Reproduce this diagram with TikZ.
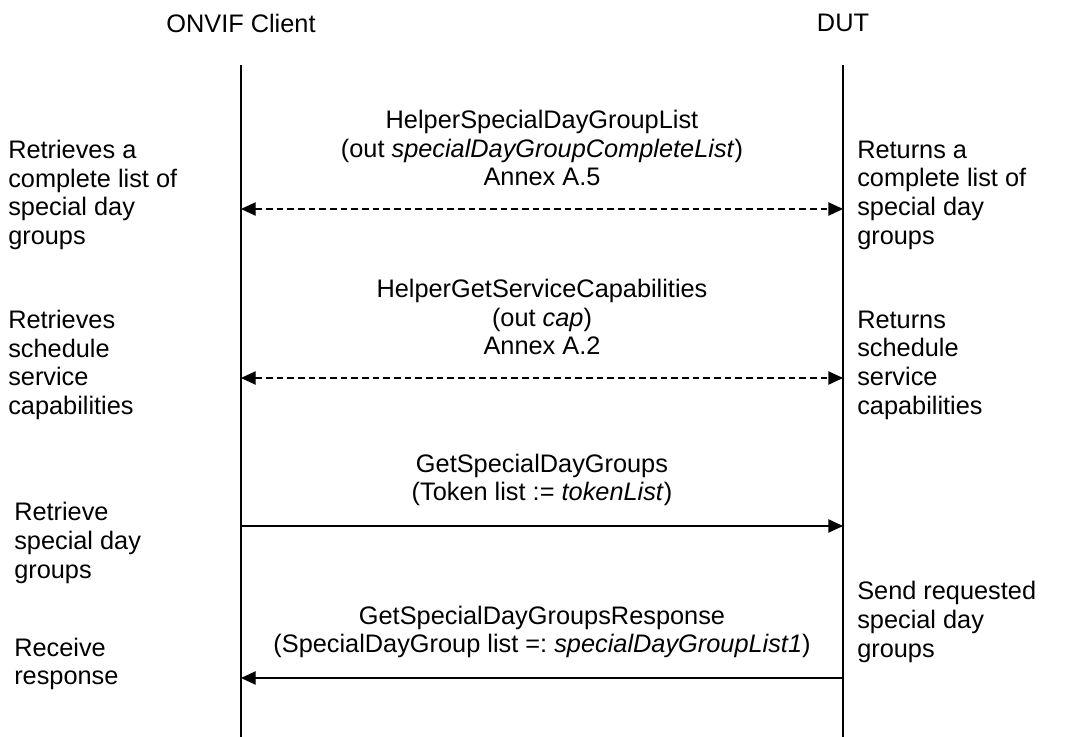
\documentclass[tikz,border=0pt]{standalone}
\usepackage{fontspec}
\setmainfont{Liberation Sans}
\usetikzlibrary{arrows.meta, positioning, calc}

\begin{document}
\frenchspacing
\begin{tikzpicture}[
    x=0.75pt, y=-0.75pt,
    >={Triangle[length=11pt, width=10pt]},
    % Define styles for the sequence chart
    txt/.style={font=\fontsize{19}{21.5}\selectfont, inner sep=0pt},
    actor/.style={txt},
    msg/.style={txt, align=center},
    note/.style={txt, align=left, anchor=west},
    life/.style={line width=1pt},
    call/.style={->, line width=1pt},
    helper/.style={<->, line width=1pt, dash pattern=on 5pt off 3pt}
]
    \useasboundingbox (0,0) rectangle (1077,737);

    % --- Actors and lifelines ---
    \node[actor] (client) at (241,23) {ONVIF Client};
    \node[actor] (dut) at (843,23) {DUT};
    \coordinate (cTop) at (241,65);
    \coordinate (cBot) at (241,737);
    \coordinate (dTop) at (843,65);
    \coordinate (dBot) at (843,737);
    \draw[life] (cTop) -- (cBot);
    \draw[life] (dTop) -- (dBot);

    % --- Arrow end points on the lifelines ---
    \coordinate (c1) at (241,209);
    \coordinate (d1) at (843,209);
    \coordinate (c2) at (241,378);
    \coordinate (d2) at (843,378);
    \coordinate (c3) at (241,526);
    \coordinate (d3) at (843,526);
    \coordinate (c4) at (241,678);
    \coordinate (d4) at (843,678);

    % --- Helper: special day group list ---
    \node[msg] (m1) at (542,148) {HelperSpecialDayGroupList\\(out \textit{specialDayGroupCompleteList})\\Annex A.5};
    \draw[helper] (c1) -- (d1);
    \node[note] (n1l) at (8,195) {Retrieves a\\complete list of\\special day\\groups};
    \node[note] (n1r) at (857,195) {Returns a\\complete list of\\special day\\groups};

    % --- Helper: service capabilities ---
    \node[msg] (m2) at (542,317) {HelperGetServiceCapabilities\\(out \textit{cap})\\Annex A.2};
    \draw[helper] (c2) -- (d2);
    \node[note] (n2l) at (8,365) {Retrieves\\schedule\\service\\capabilities};
    \node[note] (n2r) at (857,365) {Returns\\schedule\\service\\capabilities};

    % --- Request ---
    \node[msg] (m3) at (542,480) {GetSpecialDayGroups\\(Token list := \textit{tokenList})};
    \draw[call] (c3) -- (d3);
    \node[note] (n3l) at (14,543) {Retrieve\\special day\\groups};
    \node[note] (n3r) at (857,622) {Send requested\\special day\\groups};

    % --- Response ---
    \node[msg] (m4) at (542,632) {GetSpecialDayGroupsResponse\\(SpecialDayGroup list =: \textit{specialDayGroupList1})};
    \draw[call] (d4) -- (c4);
    \node[note] (n4l) at (14,664) {Receive\\response};

\end{tikzpicture}
\end{document}
